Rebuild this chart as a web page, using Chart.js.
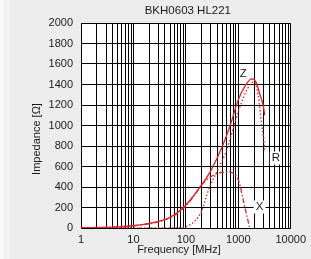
<!DOCTYPE html>
<html>
<head>
<meta charset="utf-8">
<script src="https://cdn.jsdelivr.net/npm/chart.js@4.4.1/dist/chart.umd.min.js"></script>
<style>
  html, body { margin: 0; padding: 0; background: #ececec; }
  #wrap { position: relative; width: 311px; height: 259px; }
  #edge { position: absolute; left: 0; top: 0; width: 3px; height: 259px; background: #f9f9f9; }
  #edge2 { position: absolute; left: 3px; top: 0; width: 7px; height: 259px; background: #f1f1f1; }
  canvas { position: absolute; left: 0; top: 0; }
</style>
</head>
<body>
<div id="wrap">
  <div id="edge"></div><div id="edge2"></div>
  <canvas id="chart" width="311" height="259"></canvas>
</div>
<script>
// values (frequency in MHz, impedance in ohm)
const zFreq = [1, 2, 5, 10, 20, 50, 100, 200, 300, 500, 700, 1000, 1500, 1800, 2200, 2600, 3000, 3200];
const zVals = [2, 4, 11, 22, 45, 105, 225, 420, 560, 800, 1000, 1250, 1420, 1455, 1420, 1300, 1190, 1100];

const rFreq = [1, 50, 100, 150, 200, 270, 400, 600, 1000, 1500, 2000, 2400, 2800, 3000, 3200];
const rVals = [0, 0, 15, 70, 165, 370, 560, 760, 1135, 1360, 1425, 1290, 1000, 900, 760];

const xFreq = [1, 10, 50, 100, 150, 200, 300, 450, 700, 900, 1000, 1100, 1250, 1450, 1650];
const xVals = [2, 22, 100, 215, 330, 420, 500, 540, 545, 510, 470, 400, 270, 125, 0];

const decadeLabels = [1, 10, 100, 1000, 10000];
const yTicks = [0, 200, 400, 600, 800, 1000, 1200, 1400, 1600, 1800, 2000];

const RED = 'rgb(228, 32, 42)';
const FONT = '"Liberation Sans", Arial, sans-serif';

function pts(fs, vs) {
    return fs.map((f, i) => ({ x: f, y: vs[i] }));
}

// texts outside the library: title, axis titles, curve tags
const textPlugin = {
    id: 'texts',
    afterDraw(chart) {
        const ctx = chart.ctx;
        const xs = chart.scales.x, ys = chart.scales.y;
        ctx.save();
        ctx.fillStyle = '#1a1a1a';
        ctx.textAlign = 'center';
        ctx.textBaseline = 'middle';
        ctx.font = '11.5px ' + FONT;
        ctx.fillText('BKH0603 HL221', (chart.chartArea.left + chart.chartArea.right) / 2 + 2, 10.5);
        ctx.font = '11px ' + FONT;
        ctx.fillText('Frequency [MHz]', 179, 250);
        ctx.save();
        ctx.translate(37, 139);
        ctx.rotate(-Math.PI / 2);
        ctx.fillText('Impedance [Ω]', 0, 0);
        ctx.restore();

        const tags = [
            { t: 'Z', f: 1250, v: 1500, box: false },
            { t: 'R', f: 5200, v: 683, box: true },
            { t: 'X', f: 2550, v: 205, box: true }
        ];
        ctx.font = '11.5px ' + FONT;
        tags.forEach(tag => {
            const px = xs.getPixelForValue(tag.f);
            const py = ys.getPixelForValue(tag.v);
            if (tag.box) {
                ctx.fillStyle = '#ffffff';
                ctx.fillRect(px - 6, py - 6.5, 12, 13);
            }
            ctx.fillStyle = '#1a1a1a';
            ctx.fillText(tag.t, px, py);
        });
        ctx.restore();
    }
};

const plotBg = {
    id: 'plotBg',
    beforeDraw(chart) {
        const a = chart.chartArea;
        chart.ctx.save();
        chart.ctx.fillStyle = '#ffffff';
        chart.ctx.fillRect(a.left, a.top, a.right - a.left, a.bottom - a.top);
        chart.ctx.restore();
    }
};

new Chart(document.getElementById('chart'), {
    type: 'line',
    data: {
        datasets: [
            { label: 'Z', data: pts(zFreq, zVals), borderColor: RED, borderWidth: 1.3 },
            { label: 'R', data: pts(rFreq, rVals), borderColor: RED, borderWidth: 1.3, borderDash: [1.5, 2] },
            { label: 'X', data: pts(xFreq, xVals), borderColor: RED, borderWidth: 1.3, borderDash: [5, 2, 1.5, 2] }
        ]
    },
    options: {
        responsive: false,
        animation: false,
        devicePixelRatio: 1,
        layout: { padding: { top: 23, right: 18, left: 0, bottom: 0 } },
        elements: {
            point: { radius: 0 },
            line: { cubicInterpolationMode: 'monotone', fill: false }
        },
        plugins: { legend: { display: false }, tooltip: { enabled: false }, title: { display: false } },
        scales: {
            x: {
                type: 'logarithmic',
                min: 1,
                max: 10000,
                afterFit: s => { s.height = 31; },
                afterBuildTicks: s => {
                    const t = [];
                    for (let d = 1; d < 10000; d *= 10) {
                        for (let k = 1; k < 10; k++) t.push({ value: k * d });
                    }
                    t.push({ value: 10000 });
                    s.ticks = t;
                },
                grid: { color: '#000', lineWidth: 1, drawTicks: false },
                border: { color: '#000', width: 1 },
                ticks: {
                    autoSkip: false,
                    maxRotation: 0,
                    padding: 5,
                    color: '#1a1a1a',
                    font: { family: FONT, size: 11 },
                    callback: v => decadeLabels.includes(v) ? String(v) : ''
                }
            },
            y: {
                min: 0,
                max: 2000,
                afterFit: s => { s.width = 81; },
                afterBuildTicks: s => { s.ticks = yTicks.map(v => ({ value: v })); },
                grid: { color: '#000', lineWidth: 1, drawTicks: false },
                border: { color: '#000', width: 1 },
                ticks: {
                    padding: 8,
                    color: '#1a1a1a',
                    font: { family: FONT, size: 11 },
                    callback: v => String(v)
                }
            }
        }
    },
    plugins: [plotBg, textPlugin]
});
</script>
</body>
</html>
